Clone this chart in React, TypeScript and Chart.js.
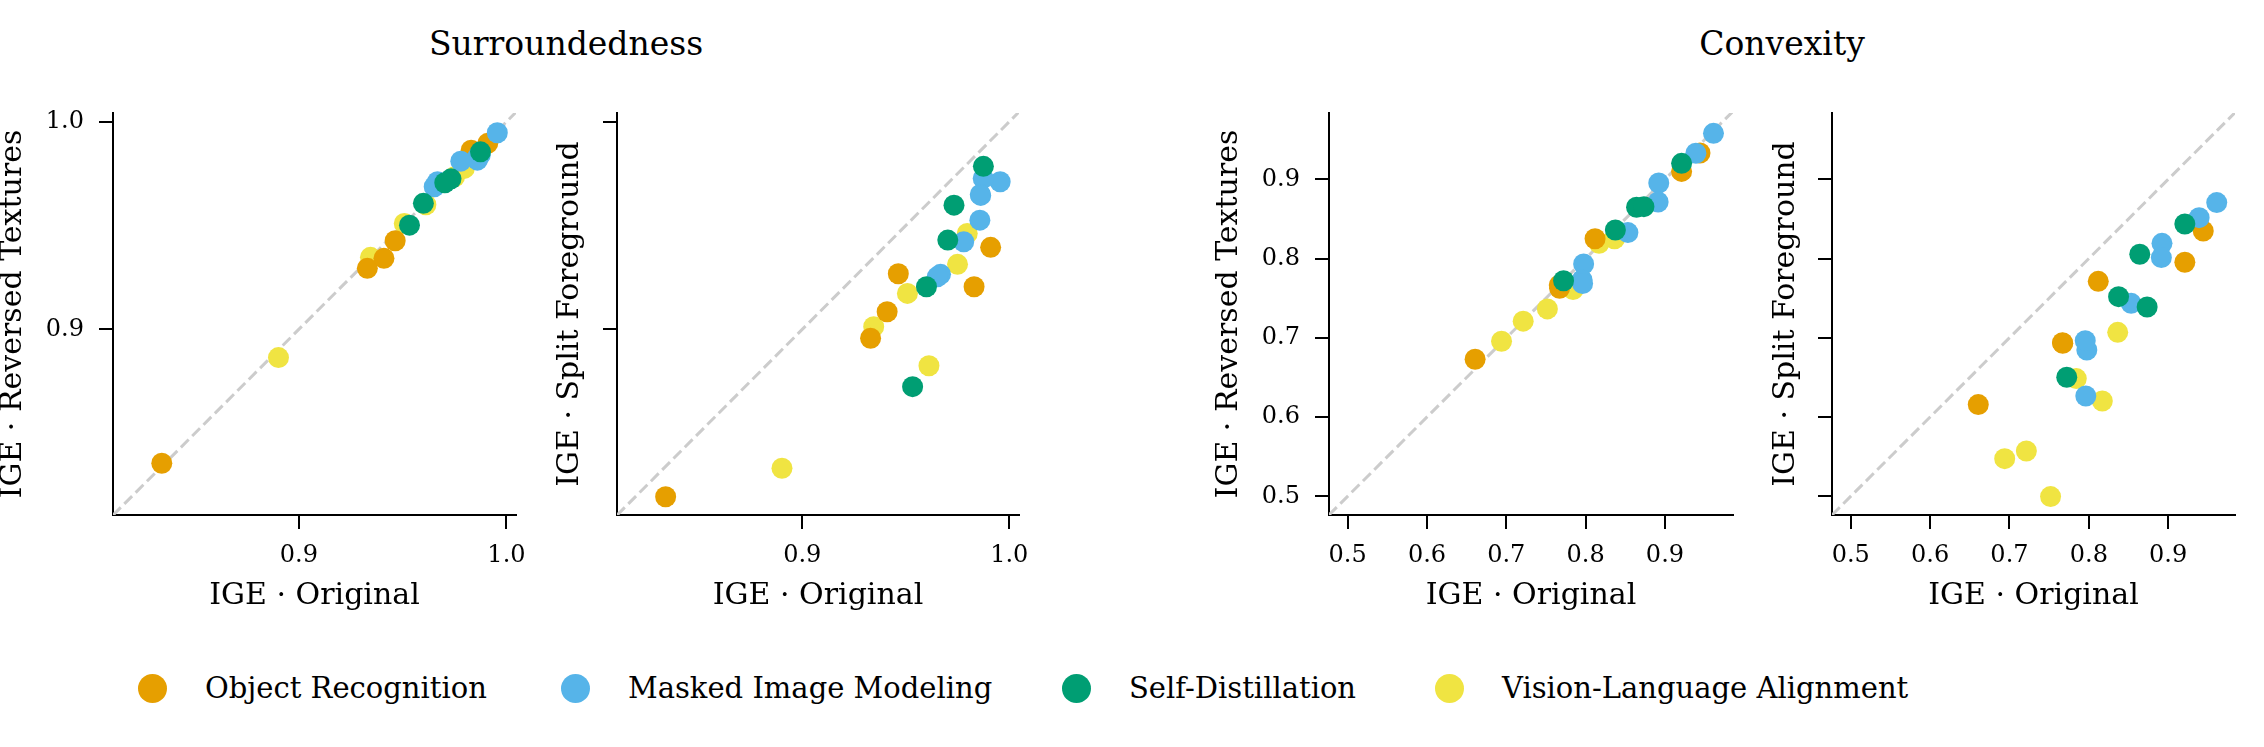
import React, { useEffect, useRef } from 'react';
import { Chart, registerables } from 'chart.js';

Chart.register(...registerables);

const FONT = "'DejaVu Serif', serif";

// ---------- categories ----------
const groupNames = ['Object Recognition', 'Masked Image Modeling', 'Self-Distillation', 'Vision-Language Alignment'];
const groupColors = ['#E69F00', '#56B4E9', '#009E73', '#F0E442'];

// ---------- Surroundedness ----------
const surrOrigOR = [0.834, 0.933, 0.941, 0.9464, 0.983, 0.991];
const surrRevOR = [0.8355, 0.9294, 0.9342, 0.9427, 0.9863, 0.9896];
const surrSplitOR = [0.8194, 0.8957, 0.9085, 0.9268, 0.9205, 0.9395];

const surrOrigMIM = [0.9956, 0.9874, 0.986, 0.9862, 0.9858, 0.978, 0.9668, 0.9652];
const surrRevMIM = [0.9947, 0.984, 0.9815, 0.983, 0.9822, 0.981, 0.9711, 0.9687];
const surrSplitMIM = [0.9711, 0.9727, 0.965, 0.9645, 0.9526, 0.9422, 0.9265, 0.9253];

const surrOrigSD = [0.9875, 0.9733, 0.9703, 0.96, 0.9533];
const surrRevSD = [0.9855, 0.9725, 0.9706, 0.9607, 0.9502];
const surrSplitSD = [0.9785, 0.9598, 0.943, 0.9205, 0.8724];

const surrOrigVL = [0.8902, 0.9345, 0.9508, 0.9612, 0.975, 0.9797];
const surrRevVL = [0.8864, 0.9347, 0.951, 0.96, 0.9735, 0.9775];
const surrSplitVL = [0.8331, 0.9013, 0.9173, 0.8825, 0.9313, 0.9462];

// ---------- Convexity ----------
const convOrigOR = [0.6607, 0.7668, 0.7672, 0.8119, 0.921, 0.9442];
const convRevOR = [0.6729, 0.7665, 0.7625, 0.825, 0.91, 0.9332];
const convSplitOR = [0.6157, 0.6939, 0.693, 0.7713, 0.7953, 0.8348];

const convOrigMIM = [0.9612, 0.939, 0.8922, 0.8914, 0.8533, 0.7975, 0.7955, 0.7962];
const convRevMIM = [0.958, 0.9329, 0.8954, 0.8714, 0.8328, 0.7932, 0.773, 0.7685];
const convSplitMIM = [0.8706, 0.8516, 0.8192, 0.8012, 0.7435, 0.6846, 0.6964, 0.6266];

const convOrigSD = [0.921, 0.8642, 0.8735, 0.8375, 0.7722];
const convRevSD = [0.9202, 0.8647, 0.8655, 0.836, 0.772];
const convSplitSD = [0.8436, 0.8054, 0.7389, 0.7519, 0.6502];

const convOrigVL = [0.8364, 0.817, 0.7842, 0.7518, 0.7213, 0.694];
const convRevVL = [0.825, 0.8192, 0.761, 0.7365, 0.721, 0.6956];
const convSplitVL = [0.7069, 0.6203, 0.6485, 0.4996, 0.5572, 0.5475];

// ---------- tick labels ----------
const surrTicks = [0.9, 1.0];
const convTicks = [0.5, 0.6, 0.7, 0.8, 0.9];

// ---------- titles ----------
const sectionTitles = ['Surroundedness', 'Convexity'];
const xTitle = 'IGE · Original';
const yTitleRev = 'IGE · Reversed Textures';
const yTitleSplit = 'IGE · Split Foreground';

// draw order (bottom to top): VL, OR, MIM, SD
const drawOrder = [3, 0, 1, 2];

// ---------- layout (pixels) ----------
const LEGEND_MARKER_X = [152, 575, 1076, 1449];
const LEGEND_TEXT_GAP = 53;
const LEGEND_Y = 688;

type PanelProps = {
  left: number;
  width: number;
  yAxisW: number;
  xMin: number;
  xMax: number;
  yMin: number;
  yMax: number;
  xTicks: number[];
  yTicks: number[];
  showYLabels: boolean;
  xs: number[][];
  ys: number[][];
  yTitle: string;
};

const PAD_TOP = 35;
const PAD_RIGHT = 30;
const X_AXIS_H = 96;
const PLOT_TOP = 113;
const PLOT_H = 402;
const CANVAS_TOP = PLOT_TOP - PAD_TOP;
const CANVAS_H = PAD_TOP + PLOT_H + X_AXIS_H;
const TICK_SIZE = 24;
const LABEL_SIZE = 30;

function Panel(p: PanelProps) {
  const ref = useRef<HTMLCanvasElement>(null);
  useEffect(() => {
    const datasets: any[] = [
      {
        label: 'diag',
        data: [
          { x: p.xMin, y: p.xMin },
          { x: p.xMax, y: p.xMax },
        ],
        showLine: true,
        borderColor: '#cccccc',
        borderWidth: 3,
        borderDash: [11, 5],
        pointRadius: 0,
        order: 10,
      },
    ];
    drawOrder.forEach((g, k) => {
      datasets.push({
        label: groupNames[g],
        data: p.xs[g].map((x, i) => ({ x, y: p.ys[g][i] })),
        backgroundColor: groupColors[g],
        borderWidth: 0,
        pointRadius: 10.5,
        pointHoverRadius: 10.5,
        order: 4 - k,
      });
    });
    const axisCommon = (ticks: number[]) => ({
      type: 'linear',
      bounds: 'data',
      afterBuildTicks: (s: any) => {
        s.ticks = ticks.map((v) => ({ value: v }));
      },
      border: { display: true, color: '#000', width: 2 },
      grid: {
        display: true,
        drawOnChartArea: false,
        drawTicks: true,
        tickLength: 14,
        color: '#000',
        lineWidth: 2,
      },
    });
    const tickOpts = (labels: boolean, padding: number) => ({
      autoSkip: false,
      maxRotation: 0,
      color: '#000',
      padding,
      font: { family: FONT, size: TICK_SIZE },
      callback: (v: any) => (labels ? Number(v).toFixed(1) : ''),
    });
    const titleOpts = (text: string) => ({
      display: true,
      text,
      color: '#000',
      font: { family: FONT, size: LABEL_SIZE, lineHeight: 1 },
      padding: 0,
    });
    const chart = new Chart(ref.current as HTMLCanvasElement, {
      type: 'scatter',
      data: { datasets },
      options: {
        animation: false,
        responsive: false,
        events: [],
        layout: { padding: { top: PAD_TOP, right: PAD_RIGHT, left: 0, bottom: 0 } },
        plugins: { legend: { display: false }, tooltip: { enabled: false } },
        scales: {
          x: {
            ...axisCommon(p.xTicks),
            position: 'bottom',
            min: p.xMin,
            max: p.xMax,
            afterFit: (s: any) => {
              s.height = X_AXIS_H;
            },
            ticks: tickOpts(true, 12),
            title: titleOpts(xTitle),
          },
          y: {
            ...axisCommon(p.yTicks),
            position: 'left',
            min: p.yMin,
            max: p.yMax,
            afterFit: (s: any) => {
              s.width = p.yAxisW;
            },
            ticks: tickOpts(p.showYLabels, 15),
            title: titleOpts(p.yTitle),
          },
        },
      } as any,
    });
    return () => chart.destroy();
  }, []);
  return (
    <canvas
      ref={ref}
      width={p.width}
      height={CANVAS_H}
      style={{ position: 'absolute', left: p.left, top: CANVAS_TOP, width: p.width, height: CANVAS_H }}
    />
  );
}

const surrXs = [surrOrigOR, surrOrigMIM, surrOrigSD, surrOrigVL];
const surrRevYs = [surrRevOR, surrRevMIM, surrRevSD, surrRevVL];
const surrSplitYs = [surrSplitOR, surrSplitMIM, surrSplitSD, surrSplitVL];
const convXs = [convOrigOR, convOrigMIM, convOrigSD, convOrigVL];
const convRevYs = [convRevOR, convRevMIM, convRevSD, convRevVL];
const convSplitYs = [convSplitOR, convSplitMIM, convSplitSD, convSplitVL];

export default function App() {
  return (
    <div
      style={{
        position: 'fixed',
        left: 0,
        top: 0,
        width: 2264,
        height: 747,
        overflow: 'hidden',
        background: '#fff',
        fontFamily: FONT,
        color: '#000',
      }}
    >
      {sectionTitles.map((t, i) => (
        <div
          key={t}
          style={{
            position: 'absolute',
            left: i === 0 ? 566 : 1782,
            top: 43,
            transform: 'translate(-50%, -50%)',
            fontSize: 33,
            lineHeight: 1,
            whiteSpace: 'nowrap',
          }}
        >
          {t}
        </div>
      ))}

      <Panel left={-2} width={548} yAxisW={115} xMin={0.8105} xMax={1.0046} yMin={0.8106} yMax={1.0042}
        xTicks={surrTicks} yTicks={surrTicks} showYLabels={true} xs={surrXs} ys={surrRevYs} yTitle={yTitleRev} />
      <Panel left={555} width={494} yAxisW={62} xMin={0.8105} xMax={1.0047} yMin={0.8106} yMax={1.0042}
        xTicks={surrTicks} yTicks={surrTicks} showYLabels={false} xs={surrXs} ys={surrSplitYs} yTitle={yTitleSplit} />
      <Panel left={1214} width={549} yAxisW={115} xMin={0.4765} xMax={0.9858} yMin={0.4764} yMax={0.9837}
        xTicks={convTicks} yTicks={convTicks} showYLabels={true} xs={convXs} ys={convRevYs} yTitle={yTitleRev} />
      <Panel left={1771} width={494} yAxisW={61} xMin={0.4764} xMax={0.9842} yMin={0.4764} yMax={0.9837}
        xTicks={convTicks} yTicks={convTicks} showYLabels={false} xs={convXs} ys={convSplitYs} yTitle={yTitleSplit} />

      {groupNames.map((g, i) => (
        <React.Fragment key={g}>
          <div
            style={{
              position: 'absolute',
              left: LEGEND_MARKER_X[i] - 14.5,
              top: LEGEND_Y - 14.5,
              width: 29,
              height: 29,
              borderRadius: '50%',
              background: groupColors[i],
            }}
          />
          <div
            style={{
              position: 'absolute',
              left: LEGEND_MARKER_X[i] + LEGEND_TEXT_GAP,
              top: LEGEND_Y,
              transform: 'translateY(-50%)',
              fontSize: 29,
              lineHeight: 1,
              whiteSpace: 'nowrap',
            }}
          >
            {g}
          </div>
        </React.Fragment>
      ))}
    </div>
  );
}
